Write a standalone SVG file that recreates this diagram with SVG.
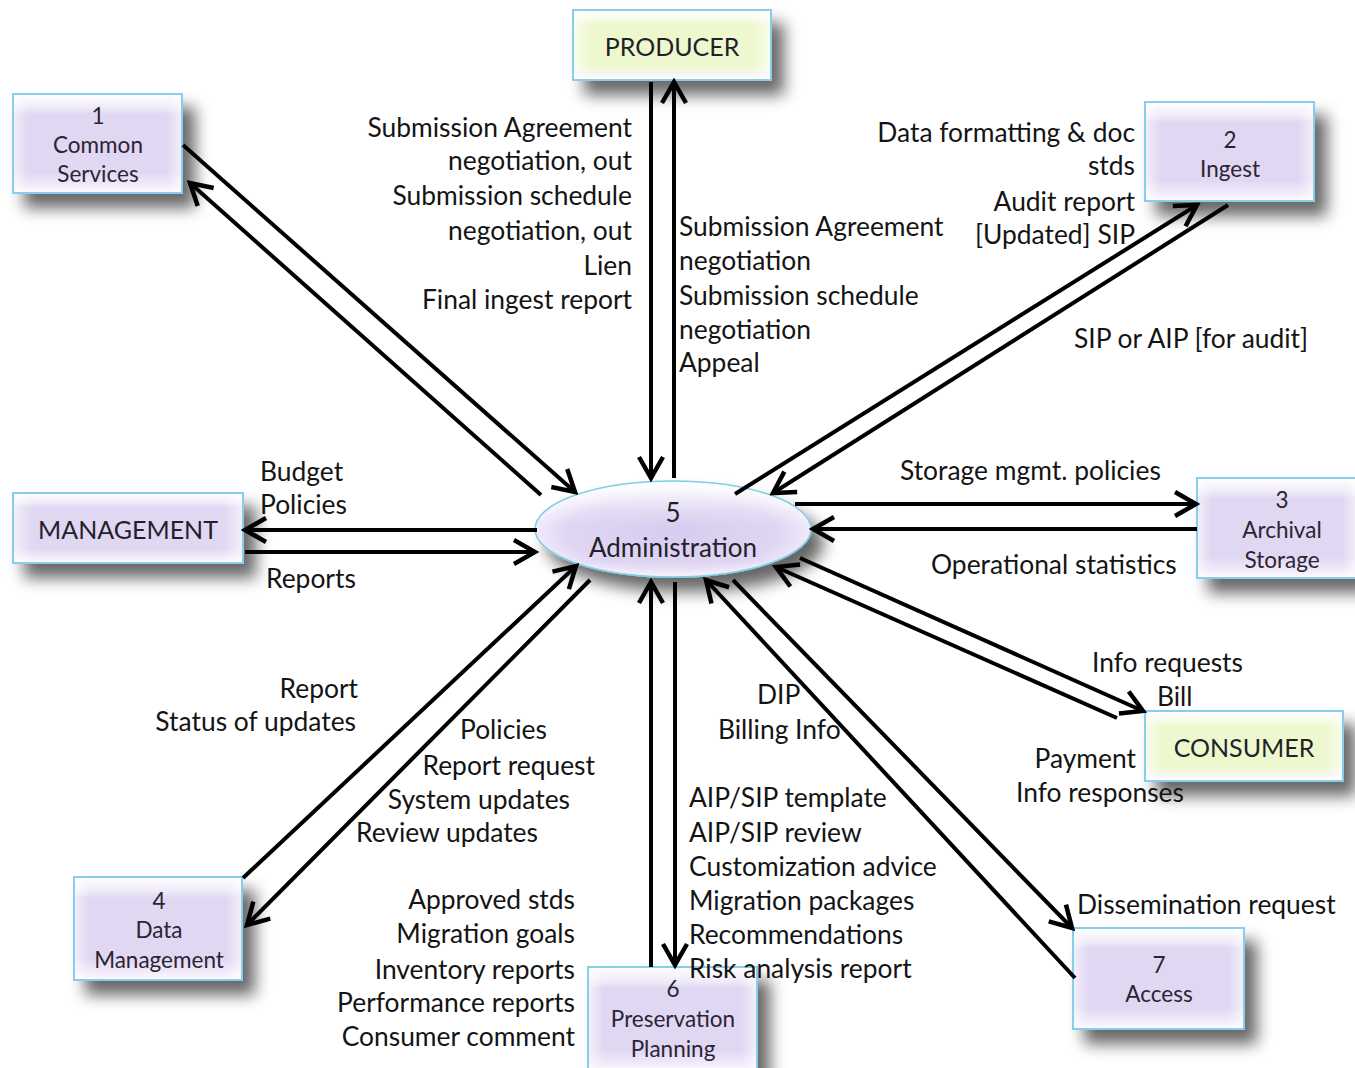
<svg xmlns="http://www.w3.org/2000/svg" width="1355" height="1068" viewBox="0 0 1355 1068">
  <defs>
    <style>
      .lbl { font-family: "Lato", "Liberation Sans", sans-serif; font-size: 26.4px; fill: #141414; }
      .end { text-anchor: end; }
      .nt { font-family: "Lato", "Liberation Sans", sans-serif; font-size: 22.5px; fill: #2b2433; text-anchor: middle; }
      .nt-big { font-family: "Lato", "Liberation Sans", sans-serif; font-size: 25px; fill: #231f2b; text-anchor: middle; }
      .base { fill: #e0d7f2; stroke: #86cdee; stroke-width: 2; }
      .base-g { fill: #eef8cf; stroke: #86cdee; stroke-width: 2; }
      .vsheen { fill: url(#vSheen); }
      .hsheen { fill: url(#hSheen); }
      .conn line { stroke: #000; stroke-width: 4; fill: none; marker-end: url(#arrow); }
    </style>
    <filter id="shadow" x="-25%" y="-25%" width="170%" height="180%">
      <feGaussianBlur in="SourceAlpha" stdDeviation="8"/>
      <feOffset dx="12" dy="14" result="b"/>
      <feComponentTransfer><feFuncA type="linear" slope="0.6"/></feComponentTransfer>
      <feMerge><feMergeNode/><feMergeNode in="SourceGraphic"/></feMerge>
    </filter>
    <linearGradient id="vSheen" x1="0" y1="0" x2="0" y2="1">
      <stop offset="0" stop-color="#fff" stop-opacity="0.95"/>
      <stop offset="0.13" stop-color="#fff" stop-opacity="0.5"/>
      <stop offset="0.2" stop-color="#fff" stop-opacity="0"/>
      <stop offset="0.8" stop-color="#fff" stop-opacity="0"/>
      <stop offset="0.9" stop-color="#fbf0ff" stop-opacity="0.55"/>
      <stop offset="1" stop-color="#fff" stop-opacity="0.9"/>
    </linearGradient>
    <linearGradient id="hSheen" x1="0" y1="0" x2="1" y2="0">
      <stop offset="0" stop-color="#fff" stop-opacity="0.6"/>
      <stop offset="0.06" stop-color="#fff" stop-opacity="0.18"/>
      <stop offset="0.09" stop-color="#fff" stop-opacity="0"/>
      <stop offset="0.91" stop-color="#fff" stop-opacity="0"/>
      <stop offset="0.94" stop-color="#fff" stop-opacity="0.18"/>
      <stop offset="1" stop-color="#fff" stop-opacity="0.6"/>
    </linearGradient>
    <radialGradient id="ellFill" cx="0.5" cy="0.55" r="0.55">
      <stop offset="0" stop-color="#d8ccef"/>
      <stop offset="0.7" stop-color="#e0d6f3"/>
      <stop offset="1" stop-color="#f8f5fd"/>
    </radialGradient>
    <linearGradient id="ellTop" x1="0" y1="0" x2="0" y2="1">
      <stop offset="0" stop-color="#fff" stop-opacity="0.95"/>
      <stop offset="0.3" stop-color="#fff" stop-opacity="0.2"/>
      <stop offset="0.45" stop-color="#fff" stop-opacity="0"/>
      <stop offset="0.85" stop-color="#fff" stop-opacity="0"/>
      <stop offset="1" stop-color="#fff" stop-opacity="0.6"/>
    </linearGradient>
    <marker id="arrow" markerUnits="userSpaceOnUse" markerWidth="32" markerHeight="32" viewBox="0 0 32 32" refX="28" refY="16" orient="auto">
      <path d="M7,4 L28,16 L7,28" fill="none" stroke="#000" stroke-width="4.5" stroke-linejoin="miter"/>
    </marker>
  </defs>

  <rect width="1355" height="1068" fill="#fff"/>

  <!-- process and entity nodes -->
  <g id="node-common-services">
    <rect class="base" x="13" y="94" width="169" height="99" filter="url(#shadow)"/>
    <rect class="vsheen" x="14" y="95" width="167" height="97"/>
    <rect class="hsheen" x="14" y="95" width="167" height="97"/>
    <text class="nt" x="98" y="124">1</text>
    <text class="nt" x="98" y="153">Common</text>
    <text class="nt" x="98" y="182">Services</text>
  </g>

  <g id="node-producer">
    <rect class="base-g" x="573" y="10" width="198" height="70" filter="url(#shadow)"/>
    <rect class="vsheen" x="574" y="11" width="196" height="68"/>
    <rect class="hsheen" x="574" y="11" width="196" height="68"/>
    <text class="nt-big" x="672" y="56">PRODUCER</text>
  </g>

  <g id="node-ingest">
    <rect class="base" x="1145" y="102" width="169" height="99" filter="url(#shadow)"/>
    <rect class="vsheen" x="1146" y="103" width="167" height="97"/>
    <rect class="hsheen" x="1146" y="103" width="167" height="97"/>
    <text class="nt" x="1230" y="148">2</text>
    <text class="nt" x="1230" y="177">Ingest</text>
  </g>

  <g id="node-management">
    <rect class="base" x="13" y="493" width="230" height="70" filter="url(#shadow)"/>
    <rect class="vsheen" x="14" y="494" width="228" height="68"/>
    <rect class="hsheen" x="14" y="494" width="228" height="68"/>
    <text class="nt-big" x="128" y="539">MANAGEMENT</text>
  </g>

  <g id="node-administration">
    <ellipse cx="673" cy="529" rx="138" ry="48" fill="url(#ellFill)" stroke="#7dcfe6" stroke-width="1.5" filter="url(#shadow)"/>
    <ellipse cx="673" cy="529" rx="137" ry="47" fill="url(#ellTop)"/>
    <text class="nt-big" x="673" y="522" style="font-size:26px">5</text>
    <text class="nt-big" x="673" y="557" style="font-size:26px">Administration</text>
  </g>

  <g id="node-archival-storage">
    <rect class="base" x="1197" y="478" width="160" height="100" filter="url(#shadow)"/>
    <rect class="vsheen" x="1198" y="479" width="158" height="98"/>
    <rect class="hsheen" x="1198" y="479" width="158" height="98"/>
    <text class="nt" x="1282" y="508">3</text>
    <text class="nt" x="1282" y="538">Archival</text>
    <text class="nt" x="1282" y="568">Storage</text>
  </g>

  <g id="node-consumer">
    <rect class="base-g" x="1145" y="711" width="198" height="70" filter="url(#shadow)"/>
    <rect class="vsheen" x="1146" y="712" width="196" height="68"/>
    <rect class="hsheen" x="1146" y="712" width="196" height="68"/>
    <text class="nt-big" x="1244" y="757">CONSUMER</text>
  </g>

  <g id="node-data-management">
    <rect class="base" x="74" y="877" width="168" height="103" filter="url(#shadow)"/>
    <rect class="vsheen" x="75" y="878" width="166" height="101"/>
    <rect class="hsheen" x="75" y="878" width="166" height="101"/>
    <text class="nt" x="159" y="909">4</text>
    <text class="nt" x="159" y="938">Data</text>
    <text class="nt" x="159" y="968">Management</text>
  </g>

  <g id="node-preservation-planning">
    <rect class="base" x="588" y="967" width="169" height="105" filter="url(#shadow)"/>
    <rect class="vsheen" x="589" y="968" width="167" height="103"/>
    <rect class="hsheen" x="589" y="968" width="167" height="103"/>
    <text class="nt" x="673" y="997">6</text>
    <text class="nt" x="673" y="1027">Preservation</text>
    <text class="nt" x="673" y="1057">Planning</text>
  </g>

  <g id="node-access">
    <rect class="base" x="1073" y="928" width="171" height="101" filter="url(#shadow)"/>
    <rect class="vsheen" x="1074" y="929" width="169" height="99"/>
    <rect class="hsheen" x="1074" y="929" width="169" height="99"/>
    <text class="nt" x="1159" y="973">7</text>
    <text class="nt" x="1159" y="1002">Access</text>
  </g>

  <!-- data flows -->
  <g id="connectors" class="conn">
    <line x1="183" y1="145" x2="575" y2="492"/>
    <line x1="541" y1="495" x2="190" y2="183"/>
    <line x1="651" y1="82" x2="651" y2="478"/>
    <line x1="674" y1="478" x2="674" y2="82"/>
    <line x1="735" y1="494" x2="1197" y2="205"/>
    <line x1="1228" y1="205" x2="773" y2="493"/>
    <line x1="795" y1="504" x2="1196" y2="504"/>
    <line x1="1197" y1="529" x2="813" y2="529"/>
    <line x1="537" y1="530" x2="245" y2="530"/>
    <line x1="245" y1="552" x2="535" y2="552"/>
    <line x1="800" y1="558" x2="1143" y2="711"/>
    <line x1="1117" y1="718" x2="776" y2="567"/>
    <line x1="733" y1="580" x2="1072" y2="928"/>
    <line x1="1075" y1="978" x2="706" y2="580"/>
    <line x1="651" y1="967" x2="651" y2="582"/>
    <line x1="675" y1="582" x2="675" y2="965"/>
    <line x1="243" y1="878" x2="576" y2="566"/>
    <line x1="590" y1="580" x2="247" y2="925"/>
  </g>

  <!-- flow labels -->
  <g id="labels">
    <text class="lbl end" x="632" y="137">Submission Agreement</text>
    <text class="lbl end" x="632" y="170">negotiation, out</text>
    <text class="lbl end" x="632" y="205">Submission schedule</text>
    <text class="lbl end" x="632" y="240">negotiation, out</text>
    <text class="lbl end" x="632" y="275">Lien</text>
    <text class="lbl end" x="632" y="309">Final ingest report</text>

    <text class="lbl" x="679" y="236">Submission Agreement</text>
    <text class="lbl" x="679" y="270">negotiation</text>
    <text class="lbl" x="679" y="305">Submission schedule</text>
    <text class="lbl" x="679" y="339">negotiation</text>
    <text class="lbl" x="679" y="372">Appeal</text>

    <text class="lbl end" x="1135" y="142">Data formatting &amp; doc</text>
    <text class="lbl end" x="1135" y="175">stds</text>
    <text class="lbl end" x="1135" y="211">Audit report</text>
    <text class="lbl end" x="1135" y="244">[Updated] SIP</text>
    <text class="lbl" x="1074" y="348">SIP or AIP [for audit]</text>

    <text class="lbl" x="900" y="480">Storage mgmt. policies</text>
    <text class="lbl" x="931" y="574">Operational statistics</text>

    <text class="lbl" x="260" y="481">Budget</text>
    <text class="lbl" x="260" y="514">Policies</text>
    <text class="lbl" x="266" y="588">Reports</text>

    <text class="lbl" x="1092" y="672">Info requests</text>
    <text class="lbl" x="1157" y="706">Bill</text>
    <text class="lbl end" x="1136" y="768">Payment</text>
    <text class="lbl" x="1016" y="802">Info responses</text>

    <text class="lbl end" x="358" y="698">Report</text>
    <text class="lbl end" x="356" y="731">Status of updates</text>
    <text class="lbl" x="460" y="739">Policies</text>
    <text class="lbl end" x="595" y="775">Report request</text>
    <text class="lbl end" x="570" y="809">System updates</text>
    <text class="lbl end" x="538" y="842">Review updates</text>

    <text class="lbl" x="757" y="704">DIP</text>
    <text class="lbl" x="718" y="739">Billing Info</text>

    <text class="lbl" x="689" y="807">AIP/SIP template</text>
    <text class="lbl" x="689" y="842">AIP/SIP review</text>
    <text class="lbl" x="689" y="876">Customization advice</text>
    <text class="lbl" x="689" y="910">Migration packages</text>
    <text class="lbl" x="689" y="944">Recommendations</text>
    <text class="lbl" x="689" y="978">Risk analysis report</text>

    <text class="lbl end" x="575" y="909">Approved stds</text>
    <text class="lbl end" x="575" y="943">Migration goals</text>
    <text class="lbl end" x="575" y="979">Inventory reports</text>
    <text class="lbl end" x="575" y="1012">Performance reports</text>
    <text class="lbl end" x="575" y="1046">Consumer comment</text>

    <text class="lbl" x="1077" y="914">Dissemination request</text>
  </g>
</svg>
